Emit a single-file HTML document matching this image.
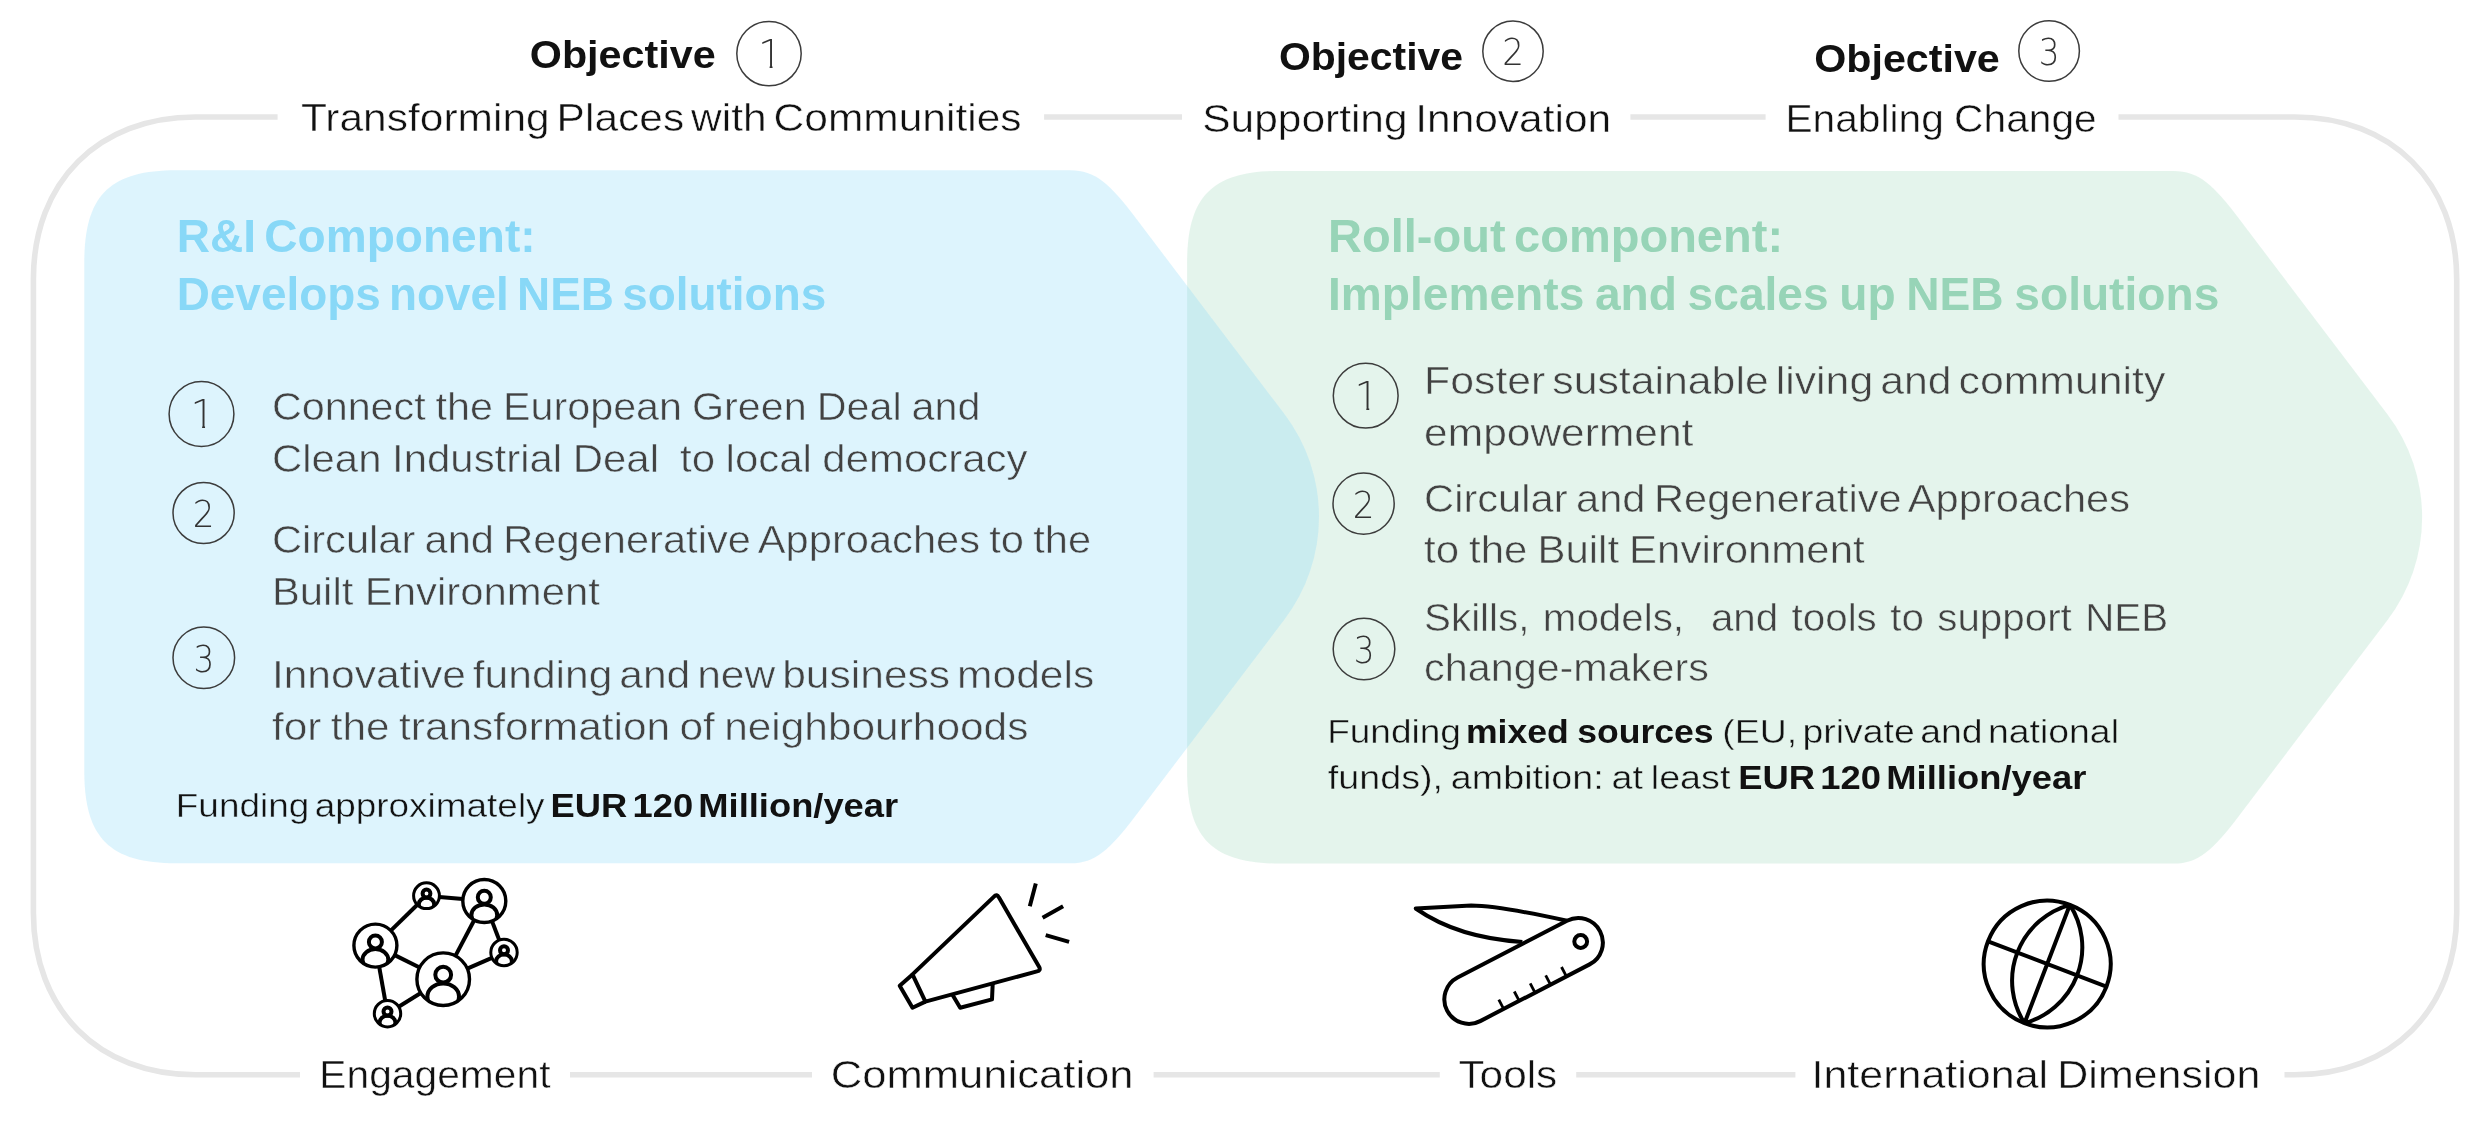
<!DOCTYPE html>
<html lang="en"><head><meta charset="utf-8"><title>NEB Facility components</title>
<style>
html,body{margin:0;padding:0;background:#fff;}
body{width:2488px;height:1124px;overflow:hidden;}
svg{display:block;will-change:transform;}
text{font-family:"Liberation Sans",sans-serif;white-space:pre;}
.lbl{font-size:39.3px;fill:#111;stroke-width:0.5px;word-spacing:-3.5px;}
.obj{font-size:39.5px;font-weight:700;fill:#111;}
.hb{font-size:45.5px;font-weight:700;fill:#88d8f7;}
.hg{font-size:45.5px;font-weight:700;fill:#97d4b7;}
.li{font-size:39.3px;fill:#424242;stroke-width:0.55px;word-spacing:-3.5px;}
.onb{stroke:#ddf4fd;}
.ong{stroke:#e4f4ec;}
.onw{stroke:#fff;}
.fu{font-size:34px;fill:#111;stroke-width:0.45px;word-spacing:-3px;}
.fub{font-size:34px;font-weight:700;fill:#111;}
.num{font-family:"DejaVu Sans","Liberation Sans",sans-serif;font-weight:200;fill:#333;text-anchor:middle;}
.ic{fill:none;stroke:#000;stroke-width:4;stroke-linecap:butt;stroke-linejoin:round;}
</style></head><body>
<svg width="2488" height="1124" viewBox="0 0 2488 1124" role="img" aria-label="NEB Facility: objectives, R&amp;I and roll-out components, enabling activities">
<path d="M277.6 117.0 L195.4 117.0 C98.40 117.00 33.40 182.00 33.40 279.00 L33.4 912.8 C33.40 1009.80 98.40 1074.80 195.40 1074.80 L300 1074.8 M1044.1 117.0 L1182.0 117.0 M1630.4 117.0 L1765.6 117.0 M570 1074.8 L812 1074.8 M1153.6 1074.8 L1439.8 1074.8 M1576.2 1074.8 L1795.4 1074.8 M2118.5 117.0 L2294.7 117.0 C2391.70 117.00 2456.70 182.00 2456.70 279.00 L2456.7 912.8 C2456.70 1009.80 2391.70 1074.80 2294.70 1074.80 L2284.5 1074.8" fill="none" stroke="#e6e6e6" stroke-width="5.6"/>
<path d="M1279.10 171.00 L2173.80 171.00 C2198.45 171.00 2212.95 184.38 2239.07 218.80 L2387.55 414.50 A170 170 0 0 1 2387.55 620.00 L2239.07 815.70 C2212.95 850.12 2198.45 863.50 2173.80 863.50 L1279.10 863.50 C1212.40 863.50 1187.10 838.20 1187.10 771.50 L1187.10 263.00 C1187.10 196.30 1212.40 171.00 1279.10 171.00 Z" fill="#97d4b7" fill-opacity="0.26"/>
<path d="M176.30 170.30 L1070.50 170.30 C1095.15 170.30 1109.65 183.68 1135.77 218.10 L1284.44 414.05 A170 170 0 0 1 1284.44 619.55 L1135.77 815.50 C1109.65 849.92 1095.15 863.30 1070.50 863.30 L176.30 863.30 C109.60 863.30 84.30 838.00 84.30 771.30 L84.30 262.30 C84.30 195.60 109.60 170.30 176.30 170.30 Z" fill="#8dd9f8" fill-opacity="0.30"/>
<text class="obj" x="529.78" y="67.8" textLength="185.86" lengthAdjust="spacingAndGlyphs" xml:space="preserve">Objective</text>
<circle cx="769.0" cy="53.6" r="32.2" fill="none" stroke="#3c3c3c" stroke-width="1.5"/>
<clipPath id="one1"><path d="M-30 27.90 H30 V65.65 H2.25 V69.90 H-0.69 V65.65 H-30 Z"/></clipPath>
<g transform="translate(770.3 0) scale(1.0 1)" clip-path="url(#one1)"><text class="num" x="0" y="67.9" font-size="39">1</text></g>
<text class="lbl onw" x="300.94" y="131.4" textLength="720.60" lengthAdjust="spacingAndGlyphs" style="word-spacing:-4.50px" xml:space="preserve">Transforming Places with Communities</text>
<text class="obj" x="1278.94" y="69.7" textLength="184.12" lengthAdjust="spacingAndGlyphs" xml:space="preserve">Objective</text>
<circle cx="1513.0" cy="51.2" r="30.2" fill="none" stroke="#3c3c3c" stroke-width="1.5"/>
<g transform="translate(1513.0 0) scale(0.91 1)"><text class="num" x="0" y="65.5" font-size="37.5">2</text></g>
<text class="lbl onw" x="1202.30" y="131.9" textLength="408.80" lengthAdjust="spacingAndGlyphs" style="word-spacing:-3.78px" xml:space="preserve">Supporting Innovation</text>
<text class="obj" x="1814.20" y="71.8" textLength="185.60" lengthAdjust="spacingAndGlyphs" xml:space="preserve">Objective</text>
<circle cx="2049.1" cy="51.0" r="30.3" fill="none" stroke="#3c3c3c" stroke-width="1.5"/>
<g transform="translate(2049.1 0) scale(0.87 1)"><text class="num" x="0" y="65.3" font-size="37.5">3</text></g>
<text class="lbl onw" x="1785.40" y="131.9" textLength="311.30" lengthAdjust="spacingAndGlyphs" style="word-spacing:-0.98px" xml:space="preserve">Enabling Change</text>
<text class="hb" x="176.70" y="252.0" textLength="358.88" lengthAdjust="spacingAndGlyphs" style="word-spacing:-4.50px" xml:space="preserve">R&amp;I Component:</text>
<text class="hb" x="176.70" y="309.6" textLength="649.52" lengthAdjust="spacingAndGlyphs" style="word-spacing:-4.50px" xml:space="preserve">Develops novel NEB solutions</text>
<text class="hg" x="1328.00" y="251.6" textLength="455.08" lengthAdjust="spacingAndGlyphs" style="word-spacing:-4.50px" xml:space="preserve">Roll-out component:</text>
<text class="hg" x="1328.00" y="309.6" textLength="891.30" lengthAdjust="spacingAndGlyphs" style="word-spacing:-2.14px" xml:space="preserve">Implements and scales up NEB solutions</text>
<circle cx="201.5" cy="414.0" r="32.4" fill="none" stroke="#3c3c3c" stroke-width="1.5"/>
<clipPath id="one2"><path d="M-30 388.30 H30 V426.05 H2.25 V430.30 H-0.69 V426.05 H-30 Z"/></clipPath>
<g transform="translate(202.8 0) scale(1.0 1)" clip-path="url(#one2)"><text class="num" x="0" y="428.3" font-size="39">1</text></g>
<text class="li onb" x="271.90" y="419.6" textLength="708.54" lengthAdjust="spacingAndGlyphs" style="word-spacing:-1.44px" xml:space="preserve">Connect the European Green Deal and</text>
<text class="li onb" x="271.90" y="471.8" textLength="755.58" lengthAdjust="spacingAndGlyphs" style="word-spacing:-1.04px" xml:space="preserve">Clean Industrial Deal  to local democracy</text>
<circle cx="203.6" cy="513.0" r="30.6" fill="none" stroke="#3c3c3c" stroke-width="1.5"/>
<g transform="translate(203.6 0) scale(0.91 1)"><text class="num" x="0" y="527.3" font-size="37.5">2</text></g>
<text class="li onb" x="271.90" y="552.8" textLength="819.22" lengthAdjust="spacingAndGlyphs" style="word-spacing:-2.20px" xml:space="preserve">Circular and Regenerative Approaches to the</text>
<text class="li onb" x="271.90" y="605.3" textLength="328.00" lengthAdjust="spacingAndGlyphs" style="word-spacing:-0.14px" xml:space="preserve">Built Environment</text>
<circle cx="203.8" cy="657.8" r="30.8" fill="none" stroke="#3c3c3c" stroke-width="1.5"/>
<g transform="translate(203.8 0) scale(0.87 1)"><text class="num" x="0" y="672.1" font-size="37.5">3</text></g>
<text class="li onb" x="271.90" y="687.7" textLength="822.32" lengthAdjust="spacingAndGlyphs" style="word-spacing:-4.50px" xml:space="preserve">Innovative funding and new business models</text>
<text class="li onb" x="271.90" y="739.7" textLength="756.48" lengthAdjust="spacingAndGlyphs" style="word-spacing:-2.27px" xml:space="preserve">for the transformation of neighbourhoods</text>
<text class="fu onb" x="175.80" y="817.3" textLength="368.76" lengthAdjust="spacingAndGlyphs" style="word-spacing:-4.50px" xml:space="preserve">Funding approximately</text>
<text class="fub" x="550.54" y="817.3" textLength="347.62" lengthAdjust="spacingAndGlyphs" style="word-spacing:-4.50px" xml:space="preserve">EUR 120 Million/year</text>
<circle cx="1365.7" cy="395.7" r="32.4" fill="none" stroke="#3c3c3c" stroke-width="1.5"/>
<clipPath id="one3"><path d="M-30 370.00 H30 V407.75 H2.25 V412.00 H-0.69 V407.75 H-30 Z"/></clipPath>
<g transform="translate(1367.0 0) scale(1.0 1)" clip-path="url(#one3)"><text class="num" x="0" y="410.0" font-size="39">1</text></g>
<text class="li ong" x="1424.10" y="393.7" textLength="741.22" lengthAdjust="spacingAndGlyphs" style="word-spacing:-4.50px" xml:space="preserve">Foster sustainable living and community</text>
<text class="li ong" x="1424.10" y="445.6" textLength="269.30" lengthAdjust="spacingAndGlyphs" xml:space="preserve">empowerment</text>
<circle cx="1363.6" cy="503.6" r="30.6" fill="none" stroke="#3c3c3c" stroke-width="1.5"/>
<g transform="translate(1363.6 0) scale(0.91 1)"><text class="num" x="0" y="517.9" font-size="37.5">2</text></g>
<text class="li ong" x="1424.10" y="511.6" textLength="705.94" lengthAdjust="spacingAndGlyphs" style="word-spacing:-2.88px" xml:space="preserve">Circular and Regenerative Approaches</text>
<text class="li ong" x="1424.10" y="563.4" textLength="440.56" lengthAdjust="spacingAndGlyphs" style="word-spacing:-1.55px" xml:space="preserve">to the Built Environment</text>
<circle cx="1364.0" cy="649.0" r="30.8" fill="none" stroke="#3c3c3c" stroke-width="1.5"/>
<g transform="translate(1364.0 0) scale(0.87 1)"><text class="num" x="0" y="663.3" font-size="37.5">3</text></g>
<text class="li ong" x="1424.10" y="631.3" textLength="744.02" lengthAdjust="spacingAndGlyphs" style="word-spacing:2.18px" xml:space="preserve">Skills, models,  and tools to support NEB</text>
<text class="li ong" x="1424.10" y="681.4" textLength="284.70" lengthAdjust="spacingAndGlyphs" xml:space="preserve">change-makers</text>
<text class="fu ong" x="1327.20" y="743.4" textLength="133.74" lengthAdjust="spacingAndGlyphs" xml:space="preserve">Funding</text>
<text class="fub" x="1465.96" y="743.4" textLength="247.68" lengthAdjust="spacingAndGlyphs" style="word-spacing:-1.40px" xml:space="preserve">mixed sources</text>
<text class="fu ong" x="1722.30" y="743.4" textLength="396.64" lengthAdjust="spacingAndGlyphs" style="word-spacing:-4.50px" xml:space="preserve">(EU, private and national</text>
<text class="fu ong" x="1327.80" y="789.3" textLength="402.60" lengthAdjust="spacingAndGlyphs" style="word-spacing:-2.42px" xml:space="preserve">funds), ambition: at least</text>
<text class="fub" x="1738.30" y="789.3" textLength="348.10" lengthAdjust="spacingAndGlyphs" style="word-spacing:-4.50px" xml:space="preserve">EUR 120 Million/year</text>
<text class="lbl onw" x="319.32" y="1088.0" textLength="231.16" lengthAdjust="spacingAndGlyphs" xml:space="preserve">Engagement</text>
<text class="lbl onw" x="830.80" y="1088.0" textLength="302.80" lengthAdjust="spacingAndGlyphs" xml:space="preserve">Communication</text>
<text class="lbl onw" x="1458.44" y="1088.0" textLength="98.86" lengthAdjust="spacingAndGlyphs" xml:space="preserve">Tools</text>
<text class="lbl onw" x="1811.50" y="1088.0" textLength="448.86" lengthAdjust="spacingAndGlyphs" style="word-spacing:-2.52px" xml:space="preserve">International Dimension</text>
<g class="ic" id="engagement" stroke-width="3.2">
<line x1="390.8" y1="930.6" x2="417.3" y2="904.7"/>
<line x1="439.3" y1="896.9" x2="462.9" y2="899.0"/>
<line x1="474.3" y1="920.0" x2="455.4" y2="955.9"/>
<line x1="492.0" y1="921.1" x2="499.3" y2="940.2"/>
<line x1="491.9" y1="957.8" x2="467.3" y2="968.6"/>
<line x1="394.7" y1="955.1" x2="419.6" y2="967.5"/>
<line x1="379.2" y1="966.8" x2="385.2" y2="1000.7"/>
<line x1="398.7" y1="1006.7" x2="420.8" y2="993.0"/>
</g>
<defs>
<clipPath id="cpA"><circle cx="426.5" cy="895.7" r="12.9"/></clipPath>
<clipPath id="cpB"><circle cx="484.3" cy="901.0" r="21.5"/></clipPath>
<clipPath id="cpC"><circle cx="375.4" cy="945.6" r="21.5"/></clipPath>
<clipPath id="cpD"><circle cx="443.2" cy="979.2" r="26.3"/></clipPath>
<clipPath id="cpE"><circle cx="504.0" cy="952.5" r="13.2"/></clipPath>
<clipPath id="cpF"><circle cx="387.5" cy="1013.7" r="13.2"/></clipPath>
</defs>
<g class="ic" stroke-width="2.4">
<circle cx="426.5" cy="895.7" r="12.9" stroke-width="3.0"/>
<circle cx="426.5" cy="893.5" r="3.9"/>
<g clip-path="url(#cpA)"><ellipse cx="426.5" cy="904.2" rx="7.7" ry="6.5"/></g>
</g>
<g class="ic" stroke-width="3.0">
<circle cx="484.3" cy="901.0" r="21.5" stroke-width="3.4"/>
<circle cx="484.3" cy="897.3" r="6.5"/>
<g clip-path="url(#cpB)"><ellipse cx="484.3" cy="915.2" rx="12.9" ry="10.8"/></g>
</g>
<g class="ic" stroke-width="3.0">
<circle cx="375.4" cy="945.6" r="21.5" stroke-width="3.4"/>
<circle cx="375.4" cy="941.9" r="6.5"/>
<g clip-path="url(#cpC)"><ellipse cx="375.4" cy="959.8" rx="12.9" ry="10.8"/></g>
</g>
<g class="ic" stroke-width="3.0">
<circle cx="443.2" cy="979.2" r="26.3" stroke-width="3.4"/>
<circle cx="443.2" cy="974.7" r="7.9"/>
<g clip-path="url(#cpD)"><ellipse cx="443.2" cy="996.6" rx="15.8" ry="13.2"/></g>
</g>
<g class="ic" stroke-width="2.4">
<circle cx="504.0" cy="952.5" r="13.2" stroke-width="3.0"/>
<circle cx="504.0" cy="950.3" r="4.0"/>
<g clip-path="url(#cpE)"><ellipse cx="504.0" cy="961.2" rx="7.9" ry="6.6"/></g>
</g>
<g class="ic" stroke-width="2.4">
<circle cx="387.5" cy="1013.7" r="13.2" stroke-width="3.0"/>
<circle cx="387.5" cy="1011.5" r="4.0"/>
<g clip-path="url(#cpF)"><ellipse cx="387.5" cy="1022.4" rx="7.9" ry="6.6"/></g>
</g>
<g class="ic" id="megaphone" stroke-width="3.6">
<path d="M912.5 974.4 L994.0 896.6 Q996.8 893.4 999.0 897.6 L1039.2 967.0 Q1041.0 970.6 1037.0 971.4 L925.4 1001.6 Z"/>
<path d="M912.5 974.4 L899.7 985.7 L912.5 1007.7 L925.4 1001.6"/>
<path d="M952.3 994.4 L960.2 1007.7 L992.0 999.4 L992.7 983.6"/>
<path d="M1035.8 883.6 L1029.8 906.3 M1063.1 906.3 L1042.6 917.7 M1045.7 935.1 L1069.1 941.9"/>
</g>
<g class="ic" id="knife" stroke-width="3.3">
<path d="M1457.6 977.5 L1567.0 920.8 A24.5 24.5 0 0 1 1589.6 964.4 L1480.2 1021.1 A24.5 24.5 0 0 1 1457.6 977.5 Z"/>
<circle cx="1580.7" cy="941.5" r="6.4"/>
<path d="M1567.0 920.8 Q1500 906 1471.2 905.6 L1415.7 908.5 Q1458 938 1522.4 941.9"/>
<line x1="1503.6" y1="1008.9" x2="1498.8" y2="999.6" stroke-width="2.8"/>
<line x1="1519.2" y1="1000.8" x2="1514.3" y2="991.5" stroke-width="2.8"/>
<line x1="1535.0" y1="992.6" x2="1530.2" y2="983.3" stroke-width="2.8"/>
<line x1="1550.5" y1="984.6" x2="1545.7" y2="975.3" stroke-width="2.8"/>
<line x1="1566.4" y1="976.4" x2="1561.5" y2="967.0" stroke-width="2.8"/>
</g>
<g class="ic" id="globe" stroke-width="2.9" transform="translate(2047.2 964) rotate(21)">
<circle cx="0" cy="0" r="63.4"/>
<path d="M0 -63.4 A78.81 78.81 0 0 1 0 63.4 M0 -63.4 A78.81 78.81 0 0 0 0 63.4 M0 -63.4 V63.4 M-63.4 0 H63.4"/>
</g>
</svg></body></html>
